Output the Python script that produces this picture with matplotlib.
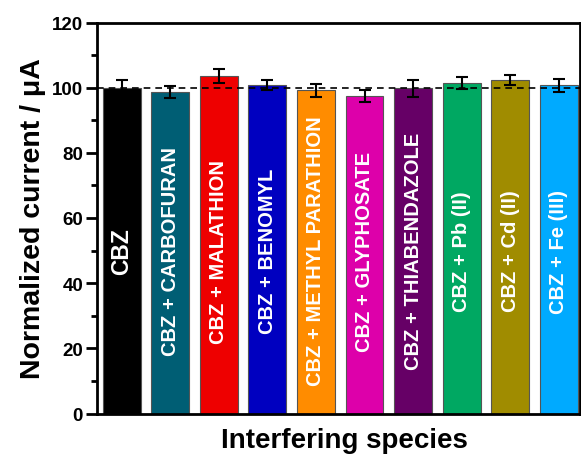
import matplotlib
matplotlib.use("Agg")
import matplotlib.pyplot as plt
import numpy as np

plt.rcParams['font.family'] = ['Liberation Sans', 'DejaVu Sans']
plt.rcParams['font.weight'] = 'bold'

labels = ["CBZ", "CBZ + CARBOFURAN", "CBZ + MALATHION", "CBZ + BENOMYL",
          "CBZ + METHYL PARATHION", "CBZ + GLYPHOSATE", "CBZ + THIABENDAZOLE",
          "CBZ + Pb (II)", "CBZ + Cd (II)", "CBZ + Fe (III)"]
values = [100.0, 98.6, 103.6, 100.9, 99.2, 97.5, 99.8, 101.5, 102.3, 100.7]
errors = [2.3, 1.85, 2.1, 1.5, 2.0, 1.9, 2.55, 1.9, 1.6, 2.05]
colors = ["#000000", "#005E74", "#EE0000", "#0000C0", "#FF8C00",
          "#DD00AA", "#660066", "#00A862", "#A08C00", "#00AAFF"]
reference = 100
yticks = [0, 20, 40, 60, 80, 100, 120]

fig = plt.figure(figsize=(5.81, 4.56), dpi=100)
ax = fig.add_axes([97/581, 41.5/456, 483/581, 391/456])

x = np.arange(1, len(values) + 1)
ax.bar(x, values, width=0.78, color=colors, edgecolor="#555555", linewidth=0.8, zorder=2)
ax.errorbar(x, values, yerr=errors, fmt='none', ecolor='black', elinewidth=1.5,
            capsize=4, capthick=1.5, zorder=4)
ax.axhline(reference, color='black', linestyle=(0, (4, 3)), linewidth=1.2, zorder=3)

for i, lab in enumerate(labels):
    fs = 16.5 if i == 0 else 14.5
    ax.text(x[i], 50, lab, rotation=90, ha='center', va='center', color='white',
            fontsize=fs, fontweight='bold', zorder=5)

ax.set_xlim(0.492, 10.436)
ax.set_ylim(0, 120)
ax.set_yticks(yticks)
ax.set_yticks(np.arange(10, 120, 20), minor=True)
ax.set_xticks([])
ax.tick_params(axis='y', which='major', length=8, width=2, labelsize=13.5, pad=2)
ax.tick_params(axis='y', which='minor', length=4, width=2)
for lbl in ax.get_yticklabels():
    lbl.set_fontweight('bold')
for s in ax.spines.values():
    s.set_linewidth(2)

ax.set_ylabel("Normalized current / \u03bcA", fontsize=20.5, fontweight='bold', labelpad=4)
fig.text(344/581, 1 - 441/456, "Interfering species", ha='center', va='center',
         fontsize=20, fontweight='bold')

fig.savefig("out.png", dpi=100)
